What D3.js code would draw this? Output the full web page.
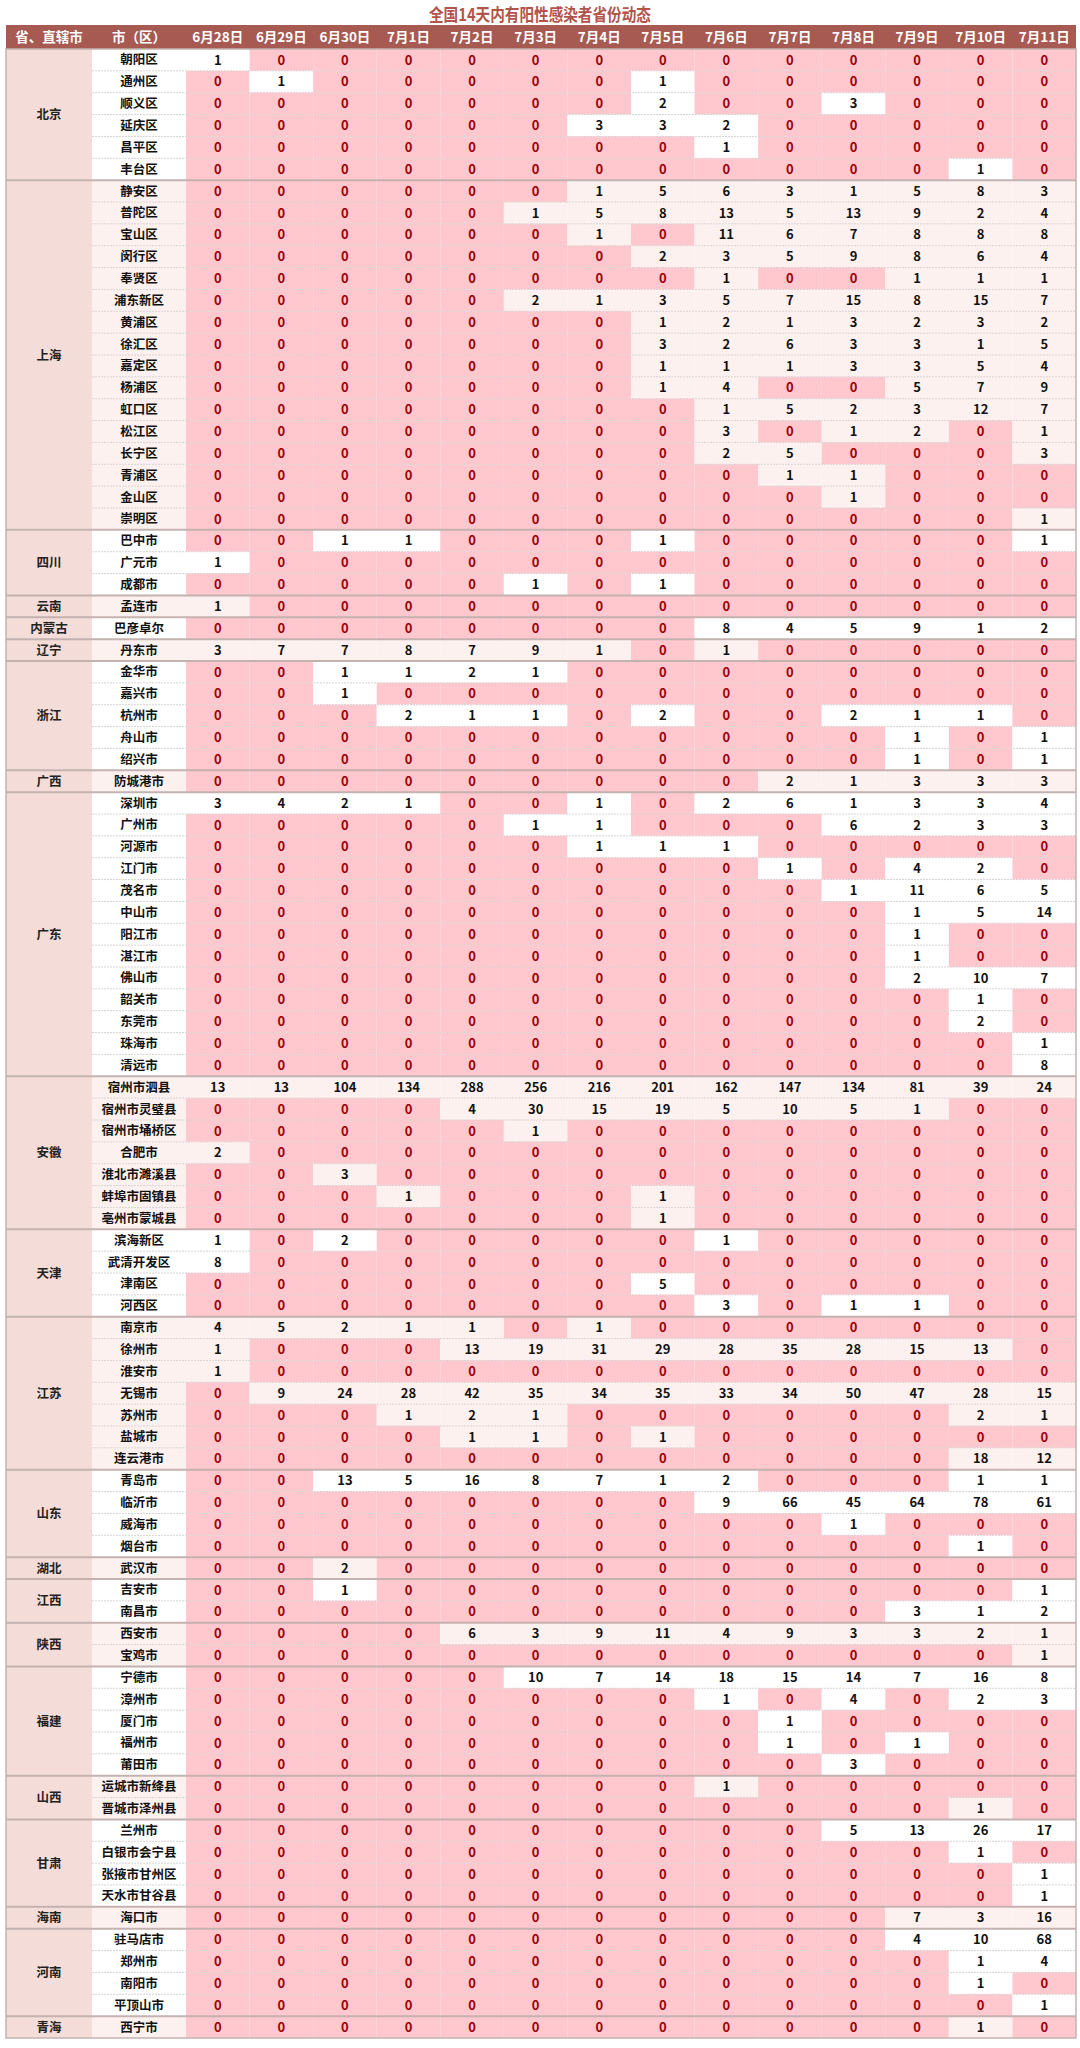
<!DOCTYPE html>
<html><head><meta charset="utf-8">
<script src="https://cdn.jsdelivr.net/npm/d3@7"></script>
<style>body{margin:0;background:#fff;} svg{display:block}</style>
</head><body><svg id="c" width="1080" height="2048"></svg>
<script>
const title = "全国14天内有阳性感染者省份动态";
const headerLabels = ["省、直辖市", "市（区）"];
const dates = ["6月28日","6月29日","6月30日","7月1日","7月2日","7月3日","7月4日","7月5日","7月6日","7月7日","7月8日","7月9日","7月10日","7月11日"];
const provinces = ["北京","上海","四川","云南","内蒙古","辽宁","浙江","广西","广东","安徽","天津","江苏","山东","湖北","江西","陕西","福建","山西","甘肃","海南","河南","青海"];
const provinceCounts = [6,16,3,1,1,1,5,1,13,7,4,7,4,1,2,2,5,2,4,1,4,1];
const cities = [
 "朝阳区","通州区","顺义区","延庆区","昌平区","丰台区",
 "静安区","普陀区","宝山区","闵行区","奉贤区","浦东新区","黄浦区","徐汇区","嘉定区","杨浦区","虹口区","松江区","长宁区","青浦区","金山区","崇明区",
 "巴中市","广元市","成都市",
 "孟连市","巴彦卓尔","丹东市",
 "金华市","嘉兴市","杭州市","舟山市","绍兴市",
 "防城港市",
 "深圳市","广州市","河源市","江门市","茂名市","中山市","阳江市","湛江市","佛山市","韶关市","东莞市","珠海市","清远市",
 "宿州市泗县","宿州市灵璧县","宿州市埇桥区","合肥市","淮北市濉溪县","蚌埠市固镇县","亳州市蒙城县",
 "滨海新区","武清开发区","津南区","河西区",
 "南京市","徐州市","淮安市","无锡市","苏州市","盐城市","连云港市",
 "青岛市","临沂市","威海市","烟台市",
 "武汉市","吉安市","南昌市","西安市","宝鸡市",
 "宁德市","漳州市","厦门市","福州市","莆田市",
 "运城市新绛县","晋城市泽州县",
 "兰州市","白银市会宁县","张掖市甘州区","天水市甘谷县",
 "海口市",
 "驻马店市","郑州市","南阳市","平顶山市",
 "西宁市"
];
const values = [
 [1,0,0,0,0,0,0,0,0,0,0,0,0,0],
 [0,1,0,0,0,0,0,1,0,0,0,0,0,0],
 [0,0,0,0,0,0,0,2,0,0,3,0,0,0],
 [0,0,0,0,0,0,3,3,2,0,0,0,0,0],
 [0,0,0,0,0,0,0,0,1,0,0,0,0,0],
 [0,0,0,0,0,0,0,0,0,0,0,0,1,0],
 [0,0,0,0,0,0,1,5,6,3,1,5,8,3],
 [0,0,0,0,0,1,5,8,13,5,13,9,2,4],
 [0,0,0,0,0,0,1,0,11,6,7,8,8,8],
 [0,0,0,0,0,0,0,2,3,5,9,8,6,4],
 [0,0,0,0,0,0,0,0,1,0,0,1,1,1],
 [0,0,0,0,0,2,1,3,5,7,15,8,15,7],
 [0,0,0,0,0,0,0,1,2,1,3,2,3,2],
 [0,0,0,0,0,0,0,3,2,6,3,3,1,5],
 [0,0,0,0,0,0,0,1,1,1,3,3,5,4],
 [0,0,0,0,0,0,0,1,4,0,0,5,7,9],
 [0,0,0,0,0,0,0,0,1,5,2,3,12,7],
 [0,0,0,0,0,0,0,0,3,0,1,2,0,1],
 [0,0,0,0,0,0,0,0,2,5,0,0,0,3],
 [0,0,0,0,0,0,0,0,0,1,1,0,0,0],
 [0,0,0,0,0,0,0,0,0,0,1,0,0,0],
 [0,0,0,0,0,0,0,0,0,0,0,0,0,1],
 [0,0,1,1,0,0,0,1,0,0,0,0,0,1],
 [1,0,0,0,0,0,0,0,0,0,0,0,0,0],
 [0,0,0,0,0,1,0,1,0,0,0,0,0,0],
 [1,0,0,0,0,0,0,0,0,0,0,0,0,0],
 [0,0,0,0,0,0,0,0,8,4,5,9,1,2],
 [3,7,7,8,7,9,1,0,1,0,0,0,0,0],
 [0,0,1,1,2,1,0,0,0,0,0,0,0,0],
 [0,0,1,0,0,0,0,0,0,0,0,0,0,0],
 [0,0,0,2,1,1,0,2,0,0,2,1,1,0],
 [0,0,0,0,0,0,0,0,0,0,0,1,0,1],
 [0,0,0,0,0,0,0,0,0,0,0,1,0,1],
 [0,0,0,0,0,0,0,0,0,2,1,3,3,3],
 [3,4,2,1,0,0,1,0,2,6,1,3,3,4],
 [0,0,0,0,0,1,1,0,0,0,6,2,3,3],
 [0,0,0,0,0,0,1,1,1,0,0,0,0,0],
 [0,0,0,0,0,0,0,0,0,1,0,4,2,0],
 [0,0,0,0,0,0,0,0,0,0,1,11,6,5],
 [0,0,0,0,0,0,0,0,0,0,0,1,5,14],
 [0,0,0,0,0,0,0,0,0,0,0,1,0,0],
 [0,0,0,0,0,0,0,0,0,0,0,1,0,0],
 [0,0,0,0,0,0,0,0,0,0,0,2,10,7],
 [0,0,0,0,0,0,0,0,0,0,0,0,1,0],
 [0,0,0,0,0,0,0,0,0,0,0,0,2,0],
 [0,0,0,0,0,0,0,0,0,0,0,0,0,1],
 [0,0,0,0,0,0,0,0,0,0,0,0,0,8],
 [13,13,104,134,288,256,216,201,162,147,134,81,39,24],
 [0,0,0,0,4,30,15,19,5,10,5,1,0,0],
 [0,0,0,0,0,1,0,0,0,0,0,0,0,0],
 [2,0,0,0,0,0,0,0,0,0,0,0,0,0],
 [0,0,3,0,0,0,0,0,0,0,0,0,0,0],
 [0,0,0,1,0,0,0,1,0,0,0,0,0,0],
 [0,0,0,0,0,0,0,1,0,0,0,0,0,0],
 [1,0,2,0,0,0,0,0,1,0,0,0,0,0],
 [8,0,0,0,0,0,0,0,0,0,0,0,0,0],
 [0,0,0,0,0,0,0,5,0,0,0,0,0,0],
 [0,0,0,0,0,0,0,0,3,0,1,1,0,0],
 [4,5,2,1,1,0,1,0,0,0,0,0,0,0],
 [1,0,0,0,13,19,31,29,28,35,28,15,13,0],
 [1,0,0,0,0,0,0,0,0,0,0,0,0,0],
 [0,9,24,28,42,35,34,35,33,34,50,47,28,15],
 [0,0,0,1,2,1,0,0,0,0,0,0,2,1],
 [0,0,0,0,1,1,0,1,0,0,0,0,0,0],
 [0,0,0,0,0,0,0,0,0,0,0,0,18,12],
 [0,0,13,5,16,8,7,1,2,0,0,0,1,1],
 [0,0,0,0,0,0,0,0,9,66,45,64,78,61],
 [0,0,0,0,0,0,0,0,0,0,1,0,0,0],
 [0,0,0,0,0,0,0,0,0,0,0,0,1,0],
 [0,0,2,0,0,0,0,0,0,0,0,0,0,0],
 [0,0,1,0,0,0,0,0,0,0,0,0,0,1],
 [0,0,0,0,0,0,0,0,0,0,0,3,1,2],
 [0,0,0,0,6,3,9,11,4,9,3,3,2,1],
 [0,0,0,0,0,0,0,0,0,0,0,0,0,1],
 [0,0,0,0,0,10,7,14,18,15,14,7,16,8],
 [0,0,0,0,0,0,0,0,1,0,4,0,2,3],
 [0,0,0,0,0,0,0,0,0,1,0,0,0,0],
 [0,0,0,0,0,0,0,0,0,1,0,1,0,0],
 [0,0,0,0,0,0,0,0,0,0,3,0,0,0],
 [0,0,0,0,0,0,0,0,1,0,0,0,0,0],
 [0,0,0,0,0,0,0,0,0,0,0,0,1,0],
 [0,0,0,0,0,0,0,0,0,0,5,13,26,17],
 [0,0,0,0,0,0,0,0,0,0,0,0,1,0],
 [0,0,0,0,0,0,0,0,0,0,0,0,0,1],
 [0,0,0,0,0,0,0,0,0,0,0,0,0,1],
 [0,0,0,0,0,0,0,0,0,0,0,7,3,16],
 [0,0,0,0,0,0,0,0,0,0,0,4,10,68],
 [0,0,0,0,0,0,0,0,0,0,0,0,1,4],
 [0,0,0,0,0,0,0,0,0,0,0,0,1,0],
 [0,0,0,0,0,0,0,0,0,0,0,0,0,1],
 [0,0,0,0,0,0,0,0,0,0,0,0,1,0]
];

// ---- layout ----
const svg = d3.select("#c");
const W = 1080;
const left = 6, provRight = 92, cityRight = 186, right = 1076;
const headTop = 25, headBottom = 49, bottom = 2038;
const font = "'Noto Sans CJK SC','Noto Sans',sans-serif";

const x = d3.scaleBand().domain(dates).range([cityRight, right]);
const y = d3.scaleBand().domain(d3.range(cities.length)).range([headBottom, bottom]);

// group info
const groups = [];
let start = 0;
provinces.forEach((p, i) => { groups.push({name: p, start, end: start + provinceCounts[i], gi: i}); start += provinceCounts[i]; });
const rowGroup = [];
groups.forEach(g => { for (let r = g.start; r < g.end; r++) rowGroup[r] = g.gi; });

const C = {
  title: "#b3544c", head: "#a65a52", prov: "#f4dcd8",
  zeroFill: "#ffc7ce", zeroText: "#9c0006",
  white: "#ffffff", pale: "#fdf1f0", line: "#d9d2d2", sep: "#c4b2b0"
};

// title
svg.append("text").attr("x", W/2).attr("y", 21).attr("text-anchor", "middle")
  .attr("font-family", font).attr("font-weight", "bold").attr("font-size", 17.5)
  .attr("fill", C.title).attr("textLength", 222).attr("lengthAdjust", "spacingAndGlyphs").text(title);

// header
svg.append("rect").attr("x", left).attr("y", headTop).attr("width", right - left).attr("height", headBottom - headTop).attr("fill", C.head);
const hy = (headTop + headBottom) / 2 + 5;
const headText = (sel) => sel.attr("text-anchor", "middle").attr("font-family", font).attr("font-weight", "bold")
  .attr("font-size", 13.5).attr("fill", "#fff");
svg.append("text").attr("x", (left + provRight)/2).attr("y", hy).call(headText).text(headerLabels[0]);
svg.append("text").attr("x", (provRight + cityRight)/2).attr("y", hy).call(headText).text(headerLabels[1]);
svg.append("g").selectAll("text").data(dates).join("text")
  .attr("x", d => x(d) + x.bandwidth()/2).attr("y", hy).call(headText).text(d => d);

// province cells
const pg = svg.append("g");
pg.selectAll("rect").data(groups).join("rect")
  .attr("x", left).attr("y", g => y(g.start)).attr("width", provRight - left)
  .attr("height", g => y(g.end - 1) + y.bandwidth() - y(g.start)).attr("fill", C.prov);
pg.selectAll("text").data(groups).join("text")
  .attr("x", (left + provRight)/2).attr("y", g => (y(g.start) + y(g.end - 1) + y.bandwidth())/2 + 4.5)
  .attr("text-anchor", "middle").attr("font-family", font).attr("font-weight", "bold").attr("font-size", 12.5)
  .attr("fill", "#222").text(g => g.name);

// city cells
const cg = svg.append("g");
cg.selectAll("rect").data(cities).join("rect")
  .attr("x", provRight).attr("y", (d, i) => y(i)).attr("width", cityRight - provRight).attr("height", y.bandwidth())
  .attr("fill", (d, i) => rowGroup[i] % 2 ? C.pale : C.white);
cg.selectAll("text").data(cities).join("text")
  .attr("x", (provRight + cityRight)/2).attr("y", (d, i) => y(i) + y.bandwidth()/2 + 4.5)
  .attr("text-anchor", "middle").attr("font-family", font).attr("font-weight", "bold").attr("font-size", 12.5)
  .attr("fill", "#111").text(d => d);

// data cells
const cells = [];
values.forEach((row, r) => row.forEach((v, c) => cells.push({r, c, v})));
const dg = svg.append("g");
dg.selectAll("rect").data(cells).join("rect")
  .attr("x", d => x(dates[d.c])).attr("y", d => y(d.r)).attr("width", x.bandwidth()).attr("height", y.bandwidth())
  .attr("fill", d => d.v === 0 ? C.zeroFill : (rowGroup[d.r] % 2 ? C.pale : C.white));
dg.selectAll("text").data(cells).join("text")
  .attr("x", d => x(dates[d.c]) + x.bandwidth()/2).attr("y", d => y(d.r) + y.bandwidth()/2 + 4.7)
  .attr("text-anchor", "middle").attr("font-family", font).attr("font-weight", "bold").attr("font-size", 13)
  .attr("fill", d => d.v === 0 ? C.zeroText : "#111").text(d => d.v);

// row lines
const lg = svg.append("g");
lg.selectAll("line").data(d3.range(1, cities.length).filter(i => !groups.some(g => g.start === i))).join("line")
  .attr("x1", provRight).attr("x2", right).attr("y1", i => y(i)).attr("y2", i => y(i))
  .attr("stroke", C.line).attr("stroke-width", 1).attr("stroke-dasharray", "2,1");
// group separators
lg.selectAll("line.sep").data(groups.slice(1)).join("line").attr("class", "sep")
  .attr("x1", left).attr("x2", right).attr("y1", g => y(g.start)).attr("y2", g => y(g.start))
  .attr("stroke", C.sep).attr("stroke-width", 2);
// outer border
svg.append("rect").attr("x", left).attr("y", headBottom).attr("width", right - left).attr("height", bottom - headBottom)
  .attr("fill", "none").attr("stroke", C.sep).attr("stroke-width", 1.5);
</script></body></html>
